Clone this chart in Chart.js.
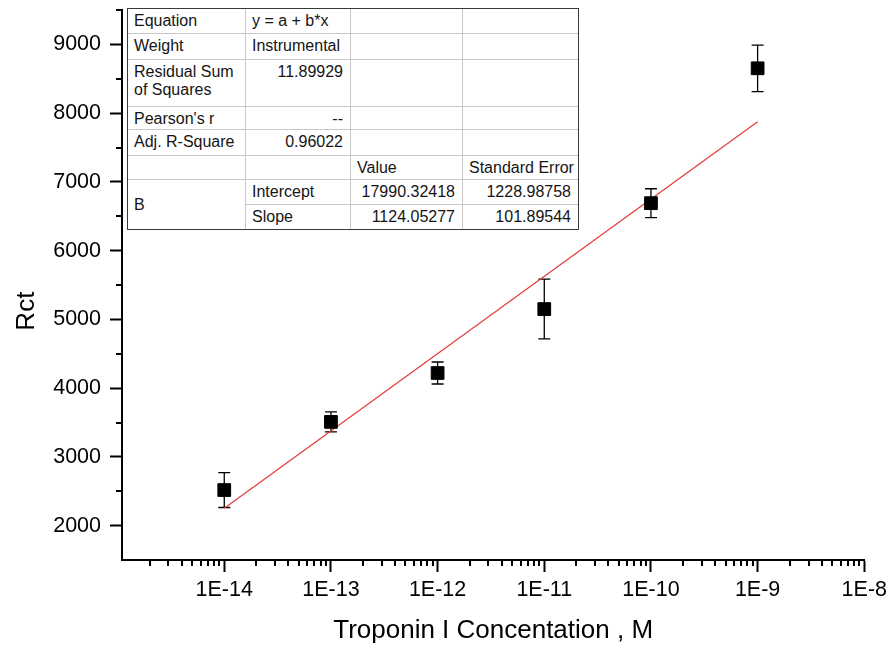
<!DOCTYPE html>
<html>
<head>
<meta charset="utf-8">
<title>Rct vs Troponin I concentration</title>
<script src="https://cdn.jsdelivr.net/npm/chart.js@4.4.0/dist/chart.umd.min.js"></script>
<style>
  body { margin: 0; background: #fff; }
  #wrap { position: relative; width: 892px; height: 648px; }
  #fitBox {
    position: absolute; left: 127px; top: 8px;
    border: 1px solid #3a3a3a; background: #fff;
    display: grid;
    grid-template-columns: 118px 105px 112px 115px;
    grid-template-rows: 25px 26px 47px 23px 26px 24px 25px 24px;
    font-family: "Liberation Sans", Arial, sans-serif; font-size: 16px; line-height: 18px; color: #151515;
  }
  #fitBox div {
    box-sizing: border-box; padding: 3px 7px 0 6px; white-space: nowrap;
    border-right: 1px solid #c8c8c8; border-bottom: 1px solid #c8c8c8;
  }
  #fitBox div.last-col { border-right: none; }
  #fitBox div.last-row { border-bottom: none; }
  #fitBox div.num { text-align: right; }
  #fitBox div.mid { display: flex; align-items: center; padding-top: 0; }
</style>
</head>
<body>
<div id="wrap">
  <canvas id="rctChart" width="892" height="648"></canvas>
  <div id="fitBox"></div>
</div>
<script>
// measured points
const concentrations = [1e-14, 1e-13, 1e-12, 1e-11, 1e-10, 1e-9];
const rct = [2518, 3509, 4220, 5150, 6690, 8652];
const rctError = [254, 145, 160, 435, 210, 338];

// linear fit Rct = a + b*log10(C)
const fitIntercept = 17990.32418;
const fitInterceptErr = 1228.98758;
const fitSlope = 1124.05277;
const fitSlopeErr = 101.89544;
const fitRSS = '11.89929';
const fitPearson = '--';
const fitAdjR2 = '0.96022';
const fitRange = [1e-14, 1e-9];

// axes
const xMin = 1.1e-15, xMax = 1e-8;
const xTickValues = [1e-14, 1e-13, 1e-12, 1e-11, 1e-10, 1e-9, 1e-8];
const yMin = 1500, yMax = 9500;
const yTickValues = [2000, 3000, 4000, 5000, 6000, 7000, 8000, 9000];
const yTitle = 'Rct';

const FONT = '"Liberation Sans", Arial, sans-serif';
Chart.defaults.font.family = FONT;
Chart.defaults.color = '#000';

// results table
const tableRows = [
  [['Equation'], ['y = a + b*x'], [''], ['']],
  [['Weight'], ['Instrumental'], [''], ['']],
  [['Residual Sum<br>of Squares'], [fitRSS, 'num'], [''], ['']],
  [["Pearson's r"], [fitPearson, 'num'], [''], ['']],
  [['Adj. R-Square'], [fitAdjR2, 'num'], [''], ['']],
  [[''], [''], ['Value'], ['Standard Error']],
  [['B', 'mid', 2], ['Intercept'], [fitIntercept.toFixed(5), 'num'], [fitInterceptErr.toFixed(5), 'num']],
  [null, ['Slope'], [fitSlope.toFixed(5), 'num'], [fitSlopeErr.toFixed(5), 'num']]
];
const box = document.getElementById('fitBox');
tableRows.forEach((row, r) => {
  row.forEach((cell, c) => {
    if (!cell) return;
    const d = document.createElement('div');
    d.innerHTML = cell[0];
    if (cell[1]) d.classList.add(cell[1]);
    const span = cell[2] || 1;
    d.style.gridColumn = (c + 1);
    d.style.gridRow = (r + 1) + ' / span ' + span;
    if (c === 3) d.classList.add('last-col');
    if (r + span === tableRows.length) d.classList.add('last-row');
    box.appendChild(d);
  });
});

const points = concentrations.map((c, i) => ({ x: c, y: rct[i] }));
const fitPoints = fitRange.map(c => ({ x: c, y: fitIntercept + fitSlope * Math.log10(c) }));

// vertical error bars with caps, under the markers
const errorBars = {
  id: 'errorBars',
  beforeDatasetsDraw(chart) {
    const { ctx, scales: { x, y } } = chart;
    ctx.save();
    ctx.strokeStyle = '#000';
    ctx.lineWidth = 1.3;
    concentrations.forEach((c, i) => {
      const px = x.getPixelForValue(c);
      const top = y.getPixelForValue(rct[i] + rctError[i]);
      const bot = y.getPixelForValue(rct[i] - rctError[i]);
      ctx.beginPath();
      ctx.moveTo(px, top); ctx.lineTo(px, bot);
      ctx.moveTo(px - 6, top); ctx.lineTo(px + 6, top);
      ctx.moveTo(px - 6, bot); ctx.lineTo(px + 6, bot);
      ctx.stroke();
    });
    ctx.restore();
  }
};

// short minor ticks on both axes, plus the y title set a bit below centre
const axisExtras = {
  id: 'axisExtras',
  afterDraw(chart) {
    const { ctx, scales: { x, y } } = chart;
    ctx.save();
    ctx.strokeStyle = '#000';
    ctx.lineWidth = 2;
    ctx.beginPath();
    for (let e = -15; e < -8; e++) {
      for (let m = 2; m <= 9; m++) {
        const v = m * Math.pow(10, e);
        if (v < xMin || v > xMax) continue;
        const px = Math.round(x.getPixelForValue(v));
        ctx.moveTo(px, x.top); ctx.lineTo(px, x.top + 6);
      }
    }
    for (let v = yMin + 1000; v <= yMax; v += 1000) {
      const py = Math.round(y.getPixelForValue(v));
      ctx.moveTo(y.right, py); ctx.lineTo(y.right - 6, py);
    }
    ctx.stroke();

    ctx.translate(27, y.getPixelForValue(5120));
    ctx.rotate(-Math.PI / 2);
    ctx.font = '26px ' + FONT;
    ctx.fillStyle = '#000';
    ctx.textAlign = 'center';
    ctx.textBaseline = 'middle';
    ctx.fillText(yTitle, 0, 0);
    ctx.restore();
  }
};

new Chart(document.getElementById('rctChart'), {
  type: 'scatter',
  data: {
    datasets: [
      {
        label: 'Rct',
        data: points,
        pointStyle: 'rect',
        pointRadius: 9,
        backgroundColor: '#000',
        borderColor: '#000',
        order: 1
      },
      {
        type: 'line',
        label: 'Linear Fit',
        data: fitPoints,
        borderColor: '#e23a3a',
        borderWidth: 1.2,
        pointRadius: 0,
        fill: false,
        order: 2
      }
    ]
  },
  options: {
    responsive: false,
    animation: false,
    layout: { padding: { top: 8, right: 27, left: 0, bottom: 0 } },
    plugins: { legend: { display: false }, tooltip: { enabled: false } },
    scales: {
      x: {
        type: 'logarithmic',
        position: 'bottom',
        min: xMin,
        max: xMax,
        afterBuildTicks: s => { s.ticks = xTickValues.map(v => ({ value: v })); },
        afterFit: s => { s.height = 88; },
        ticks: {
          autoSkip: false,
          maxRotation: 0,
          padding: 5,
          font: { size: 21.5 },
          color: '#000',
          callback: v => '1E' + Math.round(Math.log10(v))
        },
        grid: { drawOnChartArea: false, drawTicks: true, tickLength: 12, tickWidth: 2, tickColor: '#000' },
        border: { display: true, color: '#000', width: 2 },
        title: {
          display: true,
          text: 'Troponin I Concentation , M',
          font: { size: 26 },
          color: '#000',
          padding: { top: 0, bottom: 2 }
        }
      },
      y: {
        min: yMin,
        max: yMax,
        afterBuildTicks: s => { s.ticks = yTickValues.map(v => ({ value: v })); },
        afterFit: s => { s.width = 122; s.paddingTop = 0; s.paddingBottom = 0; },
        ticks: { padding: 9, font: { size: 21.5 }, color: '#000', callback: v => String(v) },
        grid: { drawOnChartArea: false, drawTicks: true, tickLength: 12, tickWidth: 2, tickColor: '#000' },
        border: { display: true, color: '#000', width: 2 },
        title: { display: false }
      }
    }
  },
  plugins: [errorBars, axisExtras]
});
</script>
</body>
</html>
